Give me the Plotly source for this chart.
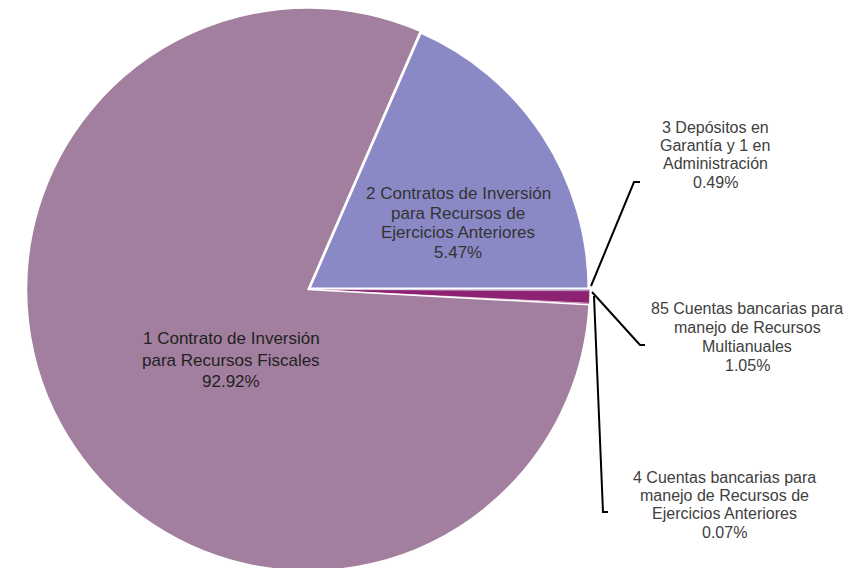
import plotly.graph_objects as go

# Slice categories (clockwise, starting at the blue slice)
categories = [
    "2 Contratos de Inversión para Recursos de Ejercicios Anteriores",
    "3 Depósitos en Garantía y 1 en Administración",
    "85 Cuentas bancarias para manejo de Recursos Multianuales",
    "4 Cuentas bancarias para manejo de Recursos de Ejercicios Anteriores",
    "1 Contrato de Inversión para Recursos Fiscales",
]
# Share of the circle each slice occupies in the picture
slice_share = [18.47, 0.08, 0.70, 0.08, 80.67]
# Percentages printed in the data labels
label_pct = ["5.47%", "0.49%", "1.05%", "0.07%", "92.92%"]
# Label text lines (without the percentage)
label_lines = [
    ["2 Contratos de Inversión", "para Recursos de", "Ejercicios Anteriores"],
    ["3 Depósitos en", "Garantía y 1 en", "Administración"],
    ["85 Cuentas bancarias para", "manejo de Recursos", "Multianuales"],
    ["4 Cuentas bancarias para", "manejo de Recursos de", "Ejercicios Anteriores"],
    ["1 Contrato de Inversión", "para Recursos Fiscales"],
]
slice_colors = ["#8B89C5", "#6C5C9E", "#8E2272", "#B0508E", "#A27F9F"]

W, H = 868, 568
OFF = 8  # page body margin: figure is drawn 8px right/down in the window
FONT = "Liberation Sans, Arial, sans-serif"


def px(x):
    """window pixel x -> paper x"""
    return (x - OFF) / W


def py(y):
    """window pixel y -> paper y"""
    return 1 - (y - OFF) / H


fig = go.Figure()
fig.add_trace(go.Pie(
    labels=categories,
    values=slice_share,
    sort=False,
    direction="clockwise",
    rotation=23.5,
    textinfo="none",
    hoverinfo="skip",
    showlegend=False,
    marker=dict(colors=slice_colors,
                line=dict(color="white", width=[4, 0.3, 0.3, 0.3, 1.5])),
    domain=dict(x=[px(26.5), px(589.5)], y=[py(571), py(8)]),
))

# label layout: (center x, first line y, line spacing, font size, color)
label_layout = [
    (458, 193, 20.0, 17, "#333333"),
    (715, 127, 18.4, 16, "#404040"),
    (747, 308, 19.0, 16, "#404040"),
    (724, 477, 18.4, 16, "#404040"),
    (231, 339, 21.0, 17, "#222222"),
]

annotations = []
for lines, pct, (cx, y0, dy, fs, col) in zip(label_lines, label_pct, label_layout):
    for i, t in enumerate(lines + [pct]):
        annotations.append(dict(
            x=px(cx), y=py(y0 + i * dy), xref="paper", yref="paper",
            text=t, showarrow=False, xanchor="center", yanchor="middle",
            font=dict(family=FONT, size=fs, color=col),
        ))

# leader lines (window pixel points)
leaders = [
    [(591, 286), (634, 182), (640, 182)],
    [(592, 292), (640, 345), (645, 345)],
    [(594, 296), (603, 512), (608, 512)],
]
shapes = []
for pts in leaders:
    path = "M " + " L ".join(f"{px(x)},{py(y)}" for x, y in pts)
    shapes.append(dict(type="path", xref="paper", yref="paper", path=path,
                       line=dict(color="black", width=2)))

fig.update_layout(
    width=W, height=H,
    margin=dict(l=0, r=0, t=0, b=0),
    paper_bgcolor="white", plot_bgcolor="white",
    annotations=annotations, shapes=shapes,
    showlegend=False,
)

fig.write_html("out.html")
